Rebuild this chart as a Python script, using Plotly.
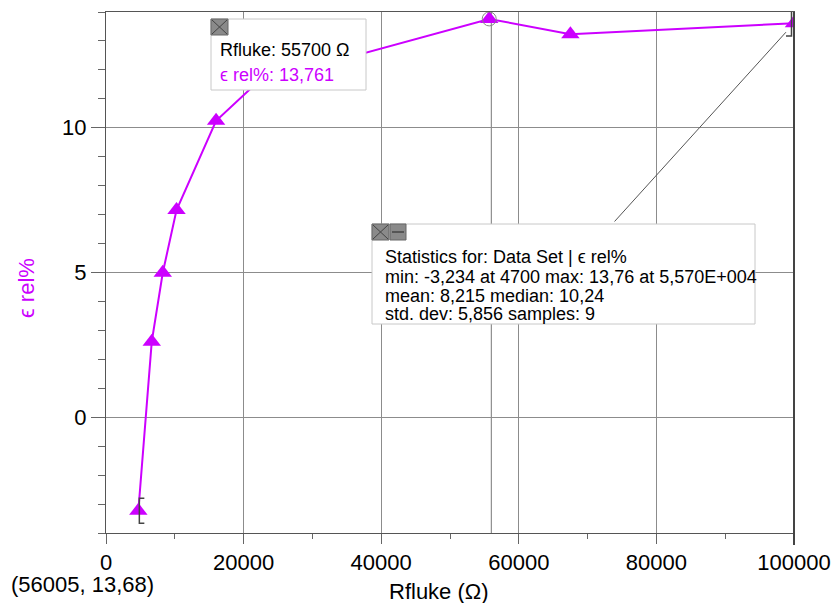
import plotly.graph_objects as go

# ---- data ----
rfluke = [4700, 6650, 8250, 10250, 16000, 22000, 55700, 67500, 100000]
eps_rel = [-3.234, 2.61, 4.99, 7.16, 10.24, 11.57, 13.761, 13.23, 13.61]
x_ticks = [0, 20000, 40000, 60000, 80000, 100000]
y_ticks = [0, 5, 10]
cursor_x = 56005
cursor_label = "(56005, 13,68)"
sel_label = ["Rfluke: 55700 Ω", "ϵ rel%: 13,761"]
stats_lines = [
    "Statistics for: Data Set | ϵ rel%",
    "min: -3,234 at 4700 max: 13,76 at 5,570E+004",
    "mean: 8,215 median: 10,24",
    "std. dev: 5,856 samples: 9",
]

MAG = "#CC00FF"
FONT = "Arial, Liberation Sans, sans-serif"
W, H = 836, 603
L, R, T, B = 106, 42, 12, 70
PW, PH = W - L - R, H - T - B


def px(x):
    return (x - L) / PW


def py(y):
    return (H - B - y) / PH


fig = go.Figure()
fig.add_trace(go.Scatter(
    x=rfluke, y=eps_rel, mode="lines+markers",
    line=dict(color=MAG, width=2),
    marker=dict(symbol="triangle-up", size=16, color=MAG),
    hoverinfo="skip", showlegend=False,
))

shapes = []
# cursor vertical line
shapes.append(dict(type="line", xref="x", yref="paper", x0=cursor_x, x1=cursor_x,
                   y0=0, y1=1, line=dict(color="#777", width=1), layer="below"))
# selected point circle
imax = eps_rel.index(max(eps_rel))
shapes.append(dict(type="circle", xref="x", yref="y", xsizemode="pixel", ysizemode="pixel",
                   xanchor=rfluke[imax], yanchor=eps_rel[imax], x0=-7, x1=7, y0=-7, y1=7,
                   line=dict(color="#888", width=1)))
# statistics range brackets
shapes.append(dict(type="path", xref="x", yref="y", xsizemode="pixel", ysizemode="pixel",
                   xanchor=rfluke[0], yanchor=eps_rel[0],
                   path="M 6,12.5 L 1,12.5 L 1,-12.5 L 6,-12.5",
                   line=dict(color="#444", width=1.5)))
shapes.append(dict(type="path", xref="x", yref="y", xsizemode="pixel", ysizemode="pixel",
                   xanchor=rfluke[-1], yanchor=eps_rel[-1],
                   path="M -8,12.8 L -2.5,12.8 L -2.5,-12.8 L -8,-12.8",
                   line=dict(color="#444", width=1.5)))


def rect(x0, y0, x1, y1, fill, line, lw=1):
    shapes.append(dict(type="rect", xref="paper", yref="paper",
                       x0=px(x0), x1=px(x1), y0=py(y1), y1=py(y0),
                       fillcolor=fill, line=dict(color=line, width=lw), layer="above"))


def seg(x0, y0, x1, y1, color, lw=1):
    shapes.append(dict(type="line", xref="paper", yref="paper",
                       x0=px(x0), x1=px(x1), y0=py(y0), y1=py(y1),
                       line=dict(color=color, width=lw), layer="above"))


# darker right frame edge
seg(794, 12, 794, 545, "#444", 2)
# selected-point label box
rect(211, 19, 366, 90, "white", "#c8c8c8")
rect(211, 19, 228, 35, "#8a8a8a", "#666")
seg(212, 20, 227, 34, "#444")
seg(212, 34, 227, 20, "#444")
# statistics box
rect(372, 224, 755, 324, "white", "#c8c8c8")
rect(372, 224, 389, 240, "#8a8a8a", "#666")
seg(373, 225, 388, 239, "#444")
seg(373, 239, 388, 225, "#444")
rect(390, 224, 406, 240, "#8a8a8a", "#666")
seg(392, 232, 404, 232, "#444", 1.5)

annotations = []
# connector from stats box to last point
annotations.append(dict(x=rfluke[-1], y=eps_rel[-1], xref="x", yref="y",
                        ax=612.7 - 793.5, ay=222.7 - 23, axref="pixel", ayref="pixel",
                        showarrow=True, arrowhead=0, arrowwidth=1, arrowcolor="#555",
                        standoff=12, text=""))


def text(s, x, y, size=18, color="black", anchor="left", angle=0):
    annotations.append(dict(text=s, x=px(x), y=py(y), xref="paper", yref="paper",
                            xanchor=anchor, yanchor="middle", showarrow=False,
                            textangle=angle,
                            font=dict(family=FONT, size=size, color=color)))


text(sel_label[0], 218, 50)
text(sel_label[1], 218, 75, color=MAG)
for s, yy in zip(stats_lines, [257, 277, 295.5, 314]):
    text(s, 383, yy)
text("Rfluke (Ω)", 439, 591, size=22, anchor="center")
text("ϵ rel%", 26, 288, size=22, color=MAG, anchor="center", angle=-90)
text(cursor_label, 9, 584, size=22)

fig.update_layout(
    width=W, height=H, autosize=False,
    margin=dict(l=L, r=R, t=T, b=B, pad=0, autoexpand=False),
    paper_bgcolor="white", plot_bgcolor="white",
    font=dict(family=FONT, size=22, color="black"),
    shapes=shapes, annotations=annotations,
    showlegend=False,
    xaxis=dict(range=[0, 100000], tickvals=x_ticks, ticktext=[str(v) for v in x_ticks],
               automargin=False,
               showgrid=True, gridcolor="#8c8c8c", gridwidth=1,
               showline=True, linecolor="#555", linewidth=1, mirror=True,
               ticks="outside", ticklen=10, tickcolor="#666",
               minor=dict(ticks="outside", ticklen=5, dtick=10000, tick0=0, tickcolor="#666",
                          showgrid=False),
               zeroline=False, tickfont=dict(size=22)),
    yaxis=dict(range=[-4, 14], tickvals=y_ticks, ticktext=[str(v) for v in y_ticks],
               automargin=False,
               showgrid=True, gridcolor="#8c8c8c", gridwidth=1,
               showline=True, linecolor="#555", linewidth=1, mirror=True,
               ticks="outside", ticklen=14, tickcolor="#666",
               minor=dict(ticks="outside", ticklen=7, dtick=1, tick0=0, tickcolor="#666",
                          showgrid=False),
               zeroline=False, tickfont=dict(size=22)),
)

fig.write_html("out.html", config={"displayModeBar": False},
               post_script="document.body.style.margin='0px';document.body.style.overflow='hidden';")
